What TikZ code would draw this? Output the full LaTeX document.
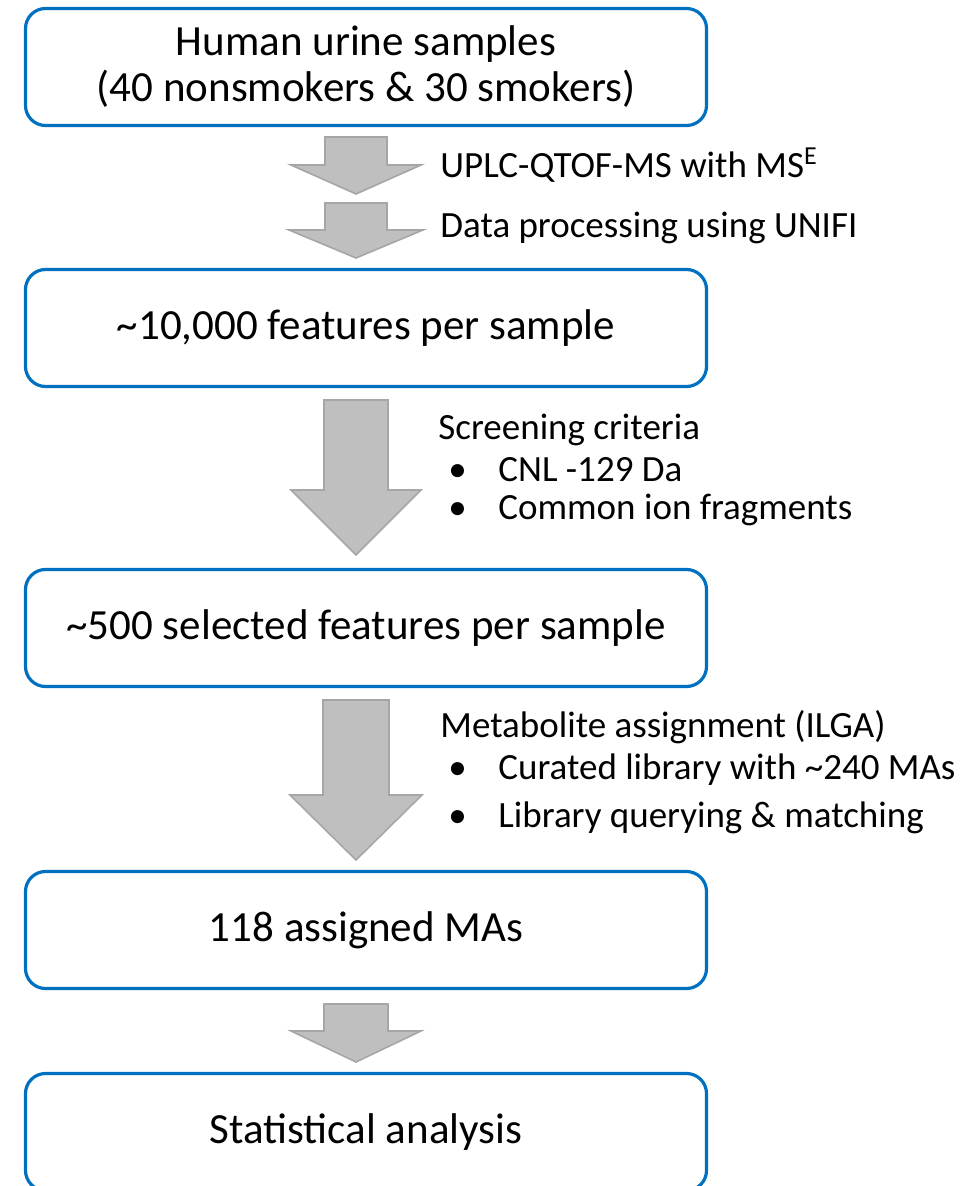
\documentclass[tikz,border=0pt]{standalone}
\usepackage{fontspec}
\setmainfont{Carlito}
\usetikzlibrary{positioning}
\definecolor{boxblue}{RGB}{0,112,192}
\definecolor{arrowgray}{RGB}{191,191,191}
\definecolor{arrowedge}{RGB}{166,166,166}

% block arrow: top, head base, tip, half shaft, half head
\newcommand{\flowarrow}[5]{%
  \filldraw[blockarrow] (356-#4,#1) -- (356+#4,#1) -- (356+#4,#2) -- (356+#5,#2)
    -- (356,#3) -- (356-#5,#2) -- (356-#4,#2) -- cycle;}

\begin{document}
\begin{tikzpicture}[x=0.5pt, y=-0.5pt,
    stage/.style={draw=boxblue, line width=1.6pt, rounded corners=10pt,
      minimum width=340.5pt, minimum height=58.5pt, align=center,
      font=\fontsize{21.5}{23}\selectfont},
    note/.style={anchor=west, inner sep=0pt, font=\fontsize{18.5}{21}\selectfont},
    blockarrow/.style={fill=arrowgray, draw=arrowedge, line width=0.8pt}]

    \useasboundingbox (0,0) rectangle (972,1186);
    \clip (0,0) rectangle (972,1186);

    % stages
    \node[stage] (samples) at (366,67) {Human urine samples\\(40 nonsmokers \& 30 smokers)};
    \node[stage] (allfeat) at (366,328) {\textasciitilde10,000 features per sample};
    \node[stage] (selfeat) at (366,628) {\textasciitilde500 selected features per sample};
    \node[stage] (assigned) at (366,930) {118 assigned MAs};
    \node[stage] (stats) at (366,1132) {Statistical analysis};

    % arrows
    \flowarrow{137}{165}{194}{31}{65}
    \flowarrow{203}{230}{258}{31}{67}
    \flowarrow{400}{490}{555}{32}{65}
    \flowarrow{700}{795}{860}{33}{66}
    \flowarrow{1004}{1031}{1062}{32}{65}

    % step labels
    \node[note] (acq) at (440,165) {UPLC-QTOF-MS with MS\textsuperscript{E}};
    \node[note] (proc) at (440,228) {Data processing using UNIFI};

    \node[note] (screen) at (438,430) {Screening criteria};
    \node[note] (cnl) at (448,470) {\makebox[25pt][l]{\textbullet}CNL -129 Da};
    \node[note] (frag) at (448,510) {\makebox[25pt][l]{\textbullet}Common ion fragments};

    \node[note] (ilga) at (440,727) {Metabolite assignment (ILGA)};
    \node[note] (lib) at (448,770) {\makebox[25pt][l]{\textbullet}Curated library with \textasciitilde240 MAs};
    \node[note] (query) at (448,818) {\makebox[25pt][l]{\textbullet}Library querying \& matching};

\end{tikzpicture}
\end{document}
